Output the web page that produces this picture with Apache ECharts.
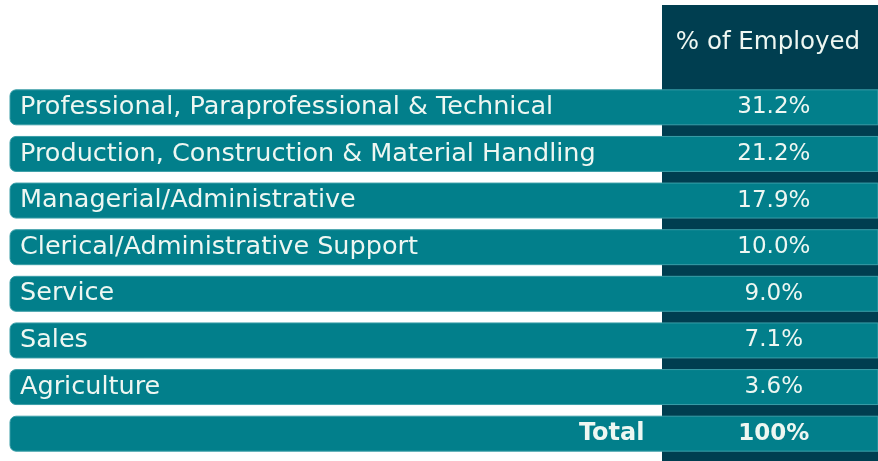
<!DOCTYPE html>
<html>
<head>
<meta charset="utf-8">
<script src="https://cdn.jsdelivr.net/npm/echarts@6/dist/echarts.min.js"></script>
<style>
  html, body { margin: 0; padding: 0; background: #fff; }
  #main { width: 878px; height: 461px; }
</style>
</head>
<body>
<div id="main"></div>
<script>
// occupations and share of employed (%)
const occupations = [
  'Professional, Paraprofessional & Technical',
  'Production, Construction & Material Handling',
  'Managerial/Administrative',
  'Clerical/Administrative Support',
  'Service',
  'Sales',
  'Agriculture'
]
const shares = [31.2, 21.2, 17.9, 10.0, 9.0, 7.1, 3.6]
const totalLabel = 'Total'
const totalShare = 100
const columnTitle = '% of Employed'

const rows = occupations.concat([totalLabel])
const values = shares.concat([totalShare])

const TEAL = '#027f8b'
const DARK = '#003e50'
const TEXT = '#eef7f2'
const FONT = '"DejaVu Sans ExtraLight", "DejaVu Sans", sans-serif'
const BOLD_FONT = '"DejaVu Sans", sans-serif'
// value column, in x-axis units (0..100 across the grid)
const COL_START = 75.4
const COL_MID = 88.0

var myChart = echarts.init(document.getElementById('main'))
myChart.setOption({
  animation: false,
  grid: { left: 10, right: 0, top: 84, bottom: 4 },
  xAxis: { type: 'value', min: 0, max: 100, show: false },
  yAxis: {
    type: 'category',
    data: rows,
    inverse: true,
    show: false
  },
  graphic: [
    {
      type: 'rect',
      z: 0,
      shape: { x: 662, y: 5, width: 216, height: 456 },
      style: { fill: DARK }
    },
    {
      type: 'text',
      z: 1,
      x: 768,
      y: 43,
      style: {
        text: columnTitle,
        fill: TEXT,
        font: '24.5px ' + FONT,
        textAlign: 'center',
        textVerticalAlign: 'middle'
      }
    }
  ],
  series: [
    {
      type: 'custom',
      data: values.map((v, i) => [i, v]),
      encode: { y: 0 },
      renderItem: function (params, api) {
        const idx = api.value(0)
        const v = api.value(1)
        const cs = params.coordSys
        const cy = api.coord([0, idx])[1]
        const h = api.size([0, 1])[1] * 0.75
        const isTotal = idx === rows.length - 1
        const valX = api.coord([COL_MID, idx])[0]
        const colX = api.coord([COL_START, idx])[0]
        const valText = isTotal ? v + '%' : v.toFixed(1) + '%'
        return {
          type: 'group',
          children: [
            {
              type: 'rect',
              shape: { x: cs.x, y: cy - h / 2, width: cs.width, height: h, r: [6, 0, 0, 6] },
              style: { fill: TEAL, stroke: '#3a9ea8', lineWidth: 1 }
            },
            {
              type: 'text',
              style: {
                x: isTotal ? colX - 20 : cs.x + 10,
                y: cy,
                text: rows[idx],
                fill: TEXT,
                font: isTotal ? 'bold 24px ' + BOLD_FONT : '25.5px ' + FONT,
                textAlign: isTotal ? 'right' : 'left',
                textVerticalAlign: 'middle'
              }
            },
            {
              type: 'text',
              style: {
                x: valX,
                y: cy,
                text: valText,
                fill: TEXT,
                font: isTotal ? 'bold 23px ' + BOLD_FONT : '23px ' + FONT,
                textAlign: 'center',
                textVerticalAlign: 'middle'
              }
            }
          ]
        }
      }
    }
  ]
})
</script>
</body>
</html>
